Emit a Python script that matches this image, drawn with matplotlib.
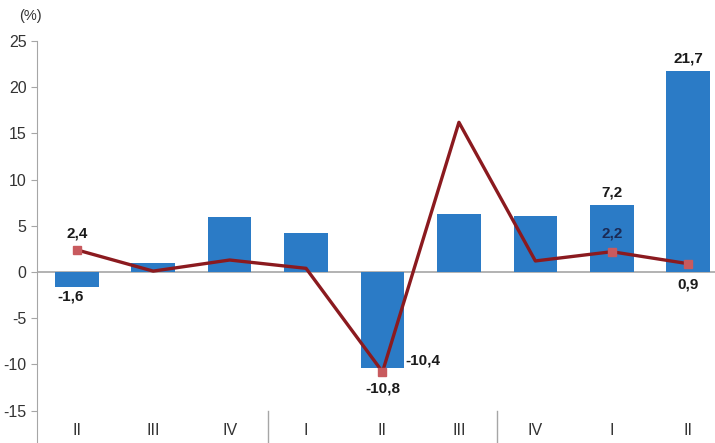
import matplotlib.pyplot as plt
import numpy as np

plt.rcParams['font.family'] = ['Liberation Sans', 'DejaVu Sans']

quarters = ['II', 'III', 'IV', 'I', 'II', 'III', 'IV', 'I', 'II']
bar_vals = [-1.6, 1.0, 6.0, 4.2, -10.4, 6.3, 6.1, 7.2, 21.7]
line_vals = [2.4, 0.1, 1.3, 0.4, -10.8, 16.2, 1.2, 2.2, 0.9]
marked = [0, 4, 7, 8]
yticks = [-15, -10, -5, 0, 5, 10, 15, 20, 25]

x = np.arange(len(quarters))

fig = plt.figure(figsize=(7.15, 4.43), dpi=100)
ax = fig.add_axes([37 / 715, 0, (715 - 37) / 715, (443 - 41) / 443])

ax.bar(x, bar_vals, width=0.57, color='#2b7bc6', zorder=2)
ax.axhline(0, color='#a6a6a6', lw=1.2, zorder=1)
ax.plot(x, line_vals, color='#8b1a1f', lw=2.4, zorder=3)
ax.plot(x[marked], np.array(line_vals)[marked], 's', color='#c85a5e', ms=5.5, zorder=4)

ax.set_xlim(-0.52, 8.35)
ax.set_ylim(-18.5, 25)
ax.set_yticks(yticks)
ax.set_yticklabels([str(t) for t in yticks], fontsize=11.5, color='#333333')
ax.set_xticks([])
for s in ['top', 'right', 'bottom']:
    ax.spines[s].set_visible(False)
ax.spines['left'].set_color('#a6a6a6')
ax.tick_params(axis='y', length=4, color='#a6a6a6')

for i, q in enumerate(quarters):
    ax.text(i, -17.2, q, ha='center', va='center', fontsize=11.5, color='#333333')
for sep in [2.5, 5.5]:
    ax.plot([sep, sep], [-18.5, -15], color='#a6a6a6', lw=1)

fig.text(30 / 715, 1 - 16 / 443, '(%)', ha='center', va='center', fontsize=10.5, color='#333333')

kw = dict(ha='center', va='center', fontsize=11, fontweight='bold', color='#1a1a1a')
ax.text(0, 4.2, '2,4', **kw)
ax.text(-0.08, -2.6, '-1,6', **kw)
ax.text(4.3, -9.6, '-10,4', ha='left', va='center', fontsize=11, fontweight='bold', color='#1a1a1a')
ax.text(4, -12.6, '-10,8', **kw)
ax.text(7, 8.6, '7,2', **kw)
ax.text(7, 4.2, '2,2', ha='center', va='center', fontsize=11, fontweight='bold', color='#1b2a55')
ax.text(8, 23.1, '21,7', **kw)
ax.text(8, -1.4, '0,9', **kw)

fig.savefig('out.png', dpi=100)
